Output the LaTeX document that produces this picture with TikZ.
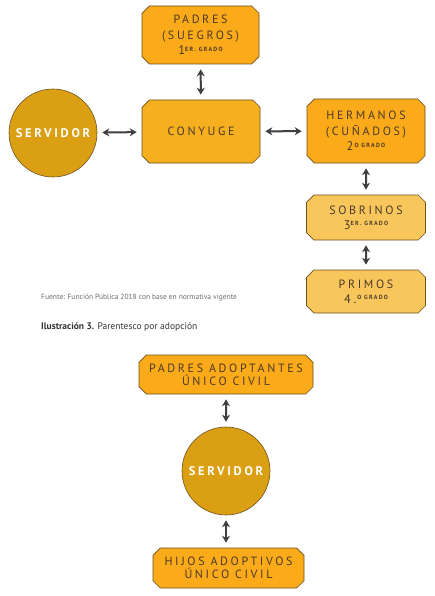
\documentclass[tikz,border=0pt]{standalone}
\usepackage{fontspec}
\setmainfont{PT Sans}
\newfontfamily\boxfont[LetterSpace=22]{PT Sans}
\usepackage{xcolor}
\usetikzlibrary{calc,shapes.misc,arrows.meta}
\definecolor{boxorange}{HTML}{FBAA1A}
\definecolor{conyorange}{HTML}{F6AF1E}
\definecolor{lightorange}{HTML}{F9C65C}
\definecolor{servgold}{HTML}{DA9F12}
\definecolor{edgebrown}{HTML}{6B5020}
\definecolor{boxtext}{HTML}{4A3A28}
\definecolor{arrowgray}{HTML}{3F3F3F}
\definecolor{notegray}{HTML}{6B6B6B}

\newcommand{\grado}[2]{{\fontsize{12.5}{14}\selectfont #1}{\fontsize{6}{7}\bfseries\raisebox{3.5pt}{#2}}}

\begin{document}
\begin{tikzpicture}[x=1pt,y=-1pt]
    % Styles for boxes and lines
    \tikzset{
      box/.style={chamfered rectangle, chamfered rectangle xsep=4pt, draw=edgebrown, line width=0.6pt, fill=boxorange, text=boxtext, align=center, font=\boxfont\fontsize{12}{16}\selectfont, inner sep=0pt},
      servcircle/.style={circle, draw=edgebrown, line width=0.6pt, fill=servgold, text=white, minimum size=88pt, inner sep=0pt, font=\boxfont\bfseries\fontsize{12.5}{15}\selectfont},
      arrow/.style={line width=2pt, arrowgray, {Stealth[length=7pt,width=8pt]}-{Stealth[length=7pt,width=8pt]}, shorten <=5pt, shorten >=5pt}
    }
    \useasboundingbox (0,0) rectangle (435,596);

    % Nodes with explicit coordinates
    \node[box, minimum width=117pt, minimum height=58pt] (padres) at (200.5,35) {PADRES\\(SUEGROS)\\[-1pt]\grado{1}{ER. GRADO}};
    \node[box, fill=conyorange, minimum width=118pt, minimum height=63pt] (conyuge) at (201,131.5) {CONYUGE};
    \node[servcircle] (servidor) at (53,133) {SERVIDOR};
    \node[box, minimum width=118pt, minimum height=64pt] (hermanos) at (366,131) {HERMANOS\\(CUÑADOS)\\[-1pt]\grado{2}{\,O GRADO}};
    \node[box, fill=lightorange, minimum width=119pt, minimum height=45pt] (sobrinos) at (366,217.5) {SOBRINOS\\[-1pt]\grado{3}{ER. GRADO}};
    \node[box, fill=lightorange, minimum width=119pt, minimum height=43pt] (primos) at (366,291.5) {PRIMOS\\[-1pt]\grado{4.}{\,O GRADO}};

    \node[anchor=west, inner sep=0pt, text=notegray, font=\fontsize{7.5}{9}\selectfont] (fuente) at (41,298) {Fuente: Función Pública 2018 con base en normativa vigente};
    \node[anchor=west, inner sep=0pt, text=black!80, font=\fontsize{9.5}{11}\selectfont] (ilustracion) at (41,327) {\textbf{Ilustración 3.} Parentesco por adopción};

    \node[box, minimum width=174pt, minimum height=39pt] (adoptantes) at (226,374.5) {PADRES ADOPTANTES\\[-3pt]ÚNICO CIVIL};
    \node[servcircle] (servidorb) at (226,471) {SERVIDOR};
    \node[box, minimum width=151pt, minimum height=40pt] (hijos) at (228.5,568) {HIJOS ADOPTIVOS\\[-3pt]ÚNICO CIVIL};

    % Arrows
    \draw[arrow] (padres) -- (conyuge);
    \draw[arrow] (servidor) -- (conyuge);
    \draw[arrow] (conyuge) -- (hermanos);
    \draw[arrow] (hermanos) -- (sobrinos);
    \draw[arrow] (sobrinos) -- (primos);
    \draw[arrow] (adoptantes) -- (servidorb);
    \draw[arrow] (servidorb) -- (hijos.north -| servidorb);

\end{tikzpicture}
\end{document}
